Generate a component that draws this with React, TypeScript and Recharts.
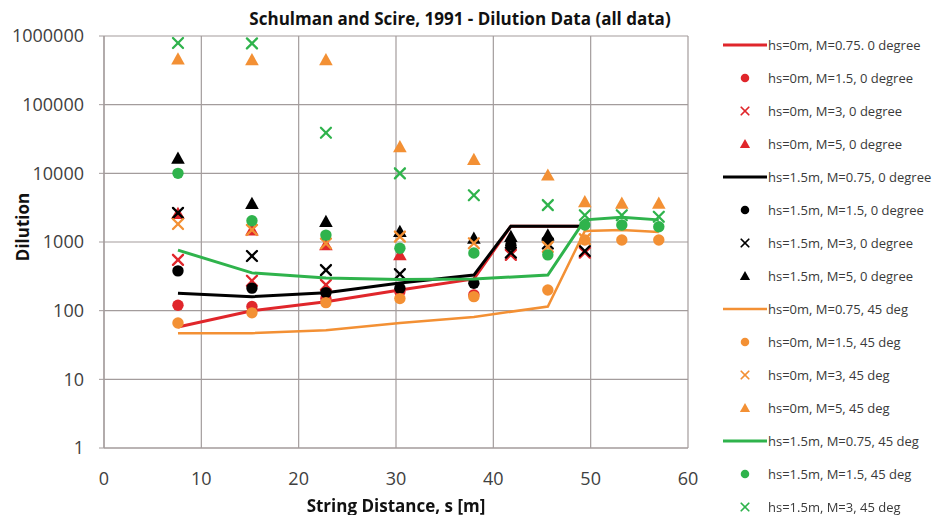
import React from 'react';
import { ScatterChart, Scatter, XAxis, YAxis, CartesianGrid } from 'recharts';

const W = 933;
const H = 515;

const RED = '#e0262b';
const BLACK = '#000000';
const ORANGE = '#f39034';
const GREEN = '#2fb34c';
const GRID = '#a39c9c';
const TEXT = '#404040';

const X_TICKS = [0, 10, 20, 30, 40, 50, 60];
const Y_TICKS = [1, 10, 100, 1000, 10000, 100000, 1000000];

// hs=0m, 0 degree
const redLineX = [7.6, 15.2, 22.8, 30.4, 38.0, 41.8, 49.0];
const redLineY = [58, 100, 135, 200, 290, 1700, 1700];
const redDotX = [7.6, 15.2, 22.8, 30.4, 38.0];
const redDotY = [120, 115, 150, 190, 170];
const redCrossX = [7.6, 15.2, 22.8, 41.8, 49.4];
const redCrossY = [550, 273, 237, 650, 700];
const redTriX = [7.6, 15.2, 22.8, 30.4];
const redTriY = [2600, 1490, 910, 650];

// hs=1.5m, 0 degree
const blackLineX = [7.6, 15.2, 22.8, 30.4, 38.0, 41.8, 49.0];
const blackLineY = [180, 160, 183, 253, 330, 1700, 1700];
const blackDotX = [7.6, 15.2, 22.8, 30.4, 38.0, 41.8, 45.6];
const blackDotY = [380, 213, 183, 212, 250, 900, 1070];
const blackCrossX = [7.6, 15.2, 22.8, 30.4, 41.8, 45.6, 49.4];
const blackCrossY = [2650, 625, 390, 340, 700, 950, 740];
const blackTriX = [7.6, 15.2, 22.8, 30.4, 38.0, 41.8, 45.6];
const blackTriY = [16600, 3640, 1980, 1420, 1130, 1200, 1260];

// hs=0m, 45 deg
const orangeLineX = [7.6, 15.2, 22.8, 30.4, 38.0, 45.6, 49.4, 53.2, 57.0];
const orangeLineY = [47, 47, 52, 66, 81, 115, 1450, 1500, 1400];
const orangeDotX = [7.6, 15.2, 22.8, 30.4, 38.0, 45.6, 49.4, 53.2, 57.0];
const orangeDotY = [66, 93, 131, 150, 160, 200, 1070, 1070, 1070];
const orangeCrossX = [7.6, 15.2, 22.8, 30.4, 38.0, 45.6, 49.4];
const orangeCrossY = [1830, 1500, 950, 1200, 960, 850, 1100];
const orangeTriX = [7.6, 15.2, 22.8, 30.4, 38.0, 45.6, 49.4, 53.2, 57.0];
const orangeTriY = [460000, 450000, 450000, 24400, 15900, 9400, 3860, 3650, 3650];

// hs=1.5m, 45 deg
const greenLineX = [7.6, 15.2, 22.8, 30.4, 38.0, 45.6, 49.4, 53.2, 57.0];
const greenLineY = [760, 355, 300, 285, 290, 330, 2100, 2300, 2100];
const greenDotX = [7.6, 15.2, 22.8, 30.4, 38.0, 45.6, 49.4, 53.2, 57.0];
const greenDotY = [10000, 2040, 1260, 810, 690, 650, 1770, 1770, 1670];
const greenCrossX = [7.6, 15.2, 22.8, 30.4, 38.0, 45.6, 49.4, 53.2, 57.0];
const greenCrossY = [790000, 780000, 39000, 10000, 4800, 3450, 2450, 2450, 2330];

const pts = (xs: number[], ys: number[]) => xs.map((x, i) => ({ x, y: ys[i] }));

type Kind = 'line' | 'dot' | 'cross' | 'tri';

const SERIES: { name: string; kind: Kind; color: string; data: { x: number; y: number }[]; width?: number }[] = [
  { name: 'hs=0m, M=0.75. 0 degree', kind: 'line', color: RED, data: pts(redLineX, redLineY), width: 3 },
  { name: 'hs=0m, M=1.5, 0 degree', kind: 'dot', color: RED, data: pts(redDotX, redDotY) },
  { name: 'hs=0m, M=3, 0 degree', kind: 'cross', color: RED, data: pts(redCrossX, redCrossY) },
  { name: 'hs=0m, M=5, 0 degree', kind: 'tri', color: RED, data: pts(redTriX, redTriY) },
  { name: 'hs=1.5m, M=0.75, 0 degree', kind: 'line', color: BLACK, data: pts(blackLineX, blackLineY), width: 3 },
  { name: 'hs=1.5m, M=1.5, 0 degree', kind: 'dot', color: BLACK, data: pts(blackDotX, blackDotY) },
  { name: 'hs=1.5m, M=3, 0 degree', kind: 'cross', color: BLACK, data: pts(blackCrossX, blackCrossY) },
  { name: 'hs=1.5m, M=5, 0 degree', kind: 'tri', color: BLACK, data: pts(blackTriX, blackTriY) },
  { name: 'hs=0m, M=0.75, 45 deg', kind: 'line', color: ORANGE, data: pts(orangeLineX, orangeLineY), width: 2.5 },
  { name: 'hs=0m, M=1.5, 45 deg', kind: 'dot', color: ORANGE, data: pts(orangeDotX, orangeDotY) },
  { name: 'hs=0m, M=3, 45 deg', kind: 'cross', color: ORANGE, data: pts(orangeCrossX, orangeCrossY) },
  { name: 'hs=0m, M=5, 45 deg', kind: 'tri', color: ORANGE, data: pts(orangeTriX, orangeTriY) },
  { name: 'hs=1.5m, M=0.75, 45 deg', kind: 'line', color: GREEN, data: pts(greenLineX, greenLineY), width: 3 },
  { name: 'hs=1.5m, M=1.5, 45 deg', kind: 'dot', color: GREEN, data: pts(greenDotX, greenDotY) },
  { name: 'hs=1.5m, M=3, 45 deg', kind: 'cross', color: GREEN, data: pts(greenCrossX, greenCrossY) },
];

function Marker({ kind, color, cx, cy, s = 1 }: { kind: Kind; color: string; cx: number; cy: number; s?: number }) {
  if (cx == null || cy == null) return null;
  if (kind === 'dot') return <circle cx={cx} cy={cy} r={5.7 * s} fill={color} />;
  if (kind === 'tri') {
    const a = 6.8 * s;
    return <polygon points={`${cx},${cy - a} ${cx - a},${cy + a * 0.8} ${cx + a},${cy + a * 0.8}`} fill={color} />;
  }
  if (kind === 'cross') {
    const a = 5 * s;
    return (
      <g stroke={color} strokeWidth={2.3 * s} strokeLinecap="round">
        <line x1={cx - a} y1={cy - a} x2={cx + a} y2={cy + a} />
        <line x1={cx - a} y1={cy + a} x2={cx + a} y2={cy - a} />
      </g>
    );
  }
  return <g />;
}

const FONT = '"Open Sans", Lato, sans-serif';

export default function App() {
  return (
    <div style={{ position: 'fixed', left: 0, top: 0, width: W, height: H, background: '#fff', fontFamily: FONT }}>
      <ScatterChart width={W} height={H} margin={{ top: 36, right: 245, bottom: 37, left: 0 }}>
        <CartesianGrid stroke={GRID} strokeWidth={1.2} />
        <XAxis
          type="number"
          dataKey="x"
          domain={[0, 60]}
          ticks={X_TICKS}
          height={30}
          axisLine={{ stroke: GRID, strokeWidth: 1.2 }}
          tickLine={false}
          tickSize={6}
          tickMargin={18}
          tick={{ fill: TEXT, fontSize: 18, fontFamily: FONT }}
        />
        <YAxis
          type="number"
          dataKey="y"
          scale="log"
          domain={[1, 1000000]}
          ticks={Y_TICKS}
          allowDataOverflow
          width={104}
          axisLine={{ stroke: GRID, strokeWidth: 1.2 }}
          tickLine={{ stroke: GRID }}
          tickSize={5}
          tickMargin={15}
          tick={{ fill: TEXT, fontSize: 18, fontFamily: FONT }}
        />
        {SERIES.map((s) =>
          s.kind === 'line' ? (
            <Scatter
              key={s.name}
              name={s.name}
              data={s.data}
              line={{ stroke: s.color, strokeWidth: s.width }}
              lineType="joint"
              shape={() => <g />}
              isAnimationActive={false}
            />
          ) : (
            <Scatter
              key={s.name}
              name={s.name}
              data={s.data}
              shape={(p: any) => <Marker kind={s.kind} color={s.color} cx={p.cx} cy={p.cy} />}
              isAnimationActive={false}
            />
          ),
        )}
      </ScatterChart>

      <div
        style={{
          position: 'absolute',
          left: 460,
          top: 18,
          transform: 'translate(-50%, -50%)',
          whiteSpace: 'nowrap',
          fontWeight: 700,
          fontSize: 17,
          color: '#111',
        }}
      >
        Schulman and Scire, 1991 - Dilution Data (all data)
      </div>
      <div
        style={{
          position: 'absolute',
          left: 22,
          top: 227,
          transform: 'translate(-50%, -50%) rotate(-90deg)',
          whiteSpace: 'nowrap',
          fontWeight: 700,
          fontSize: 17,
          color: '#111',
        }}
      >
        Dilution
      </div>
      <div
        style={{
          position: 'absolute',
          left: 396,
          top: 505,
          transform: 'translate(-50%, -50%)',
          whiteSpace: 'nowrap',
          fontWeight: 700,
          fontSize: 17,
          color: '#111',
        }}
      >
        String Distance, s [m]
      </div>

      {SERIES.map((s, i) => {
        const y = 45 + i * 33;
        return (
          <div key={s.name} style={{ position: 'absolute', left: 720, top: y - 10, height: 20, width: 213 }}>
            <svg width={50} height={20} style={{ position: 'absolute', left: 0, top: 0 }}>
              {s.kind === 'line' ? (
                <line x1={3} y1={10} x2={47} y2={10} stroke={s.color} strokeWidth={s.width} />
              ) : (
                <Marker kind={s.kind} color={s.color} cx={25} cy={10} s={0.75} />
              )}
            </svg>
            <span
              style={{
                position: 'absolute',
                left: 48,
                top: 10,
                transform: 'translateY(-50%)',
                fontSize: 13,
                color: '#3a3a3a',
                whiteSpace: 'nowrap',
              }}
            >
              {s.name}
            </span>
          </div>
        );
      })}
    </div>
  );
}
